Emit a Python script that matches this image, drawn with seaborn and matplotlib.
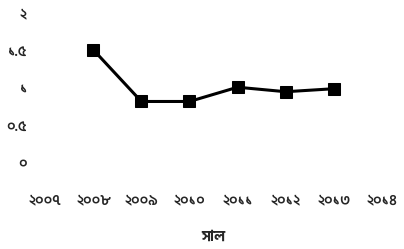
import pandas as pd

import matplotlib
matplotlib.use("Agg")

import matplotlib.pyplot as plt
import seaborn as sns

years = [2008, 2009, 2010, 2011, 2012, 2013]
values = [1.51, 0.82, 0.82, 1.01, 0.95, 0.99]

xticks = [2007, 2008, 2009, 2010, 2011, 2012, 2013, 2014]
xtick_labels = ["২০০৭", "২০০৮", "২০০৯", "২০১০", "২০১১", "২০১২", "২০১৩", "২০১৪"]
yticks = [0, 0.5, 1, 1.5, 2]
ytick_labels = ["০", "০.৫", "১", "১.৫", "২"]
xlabel = "সাল"

sns.set_style("white")
plt.rcParams['font.family'] = ['Hind Siliguri', 'DejaVu Sans']

df = pd.DataFrame({'year': years, 'value': values})

fig = plt.figure(figsize=(4.04, 2.49), dpi=100)
ax = fig.add_axes([0.076, 0.24, 0.905, 0.723])
sns.lineplot(data=df, x='year', y='value', color='black', marker='s',
             markersize=8.5, linewidth=2.2, markeredgecolor='black', ax=ax)

ax.set_xlim(2006.7, 2014.3)
ax.set_ylim(-0.35, 2.05)
ax.set_xticks(xticks)
ax.set_xticklabels(xtick_labels, fontweight='semibold')
ax.set_yticks(yticks)
ax.set_yticklabels(ytick_labels, fontweight='semibold')
ax.tick_params(length=0, labelsize=10.5, pad=3)
ax.set_xlabel(xlabel, fontsize=10.5, fontweight='bold', labelpad=16)
ax.set_ylabel('')
sns.despine(ax=ax, left=True, bottom=True)

fig.savefig("out.png", dpi=100)
